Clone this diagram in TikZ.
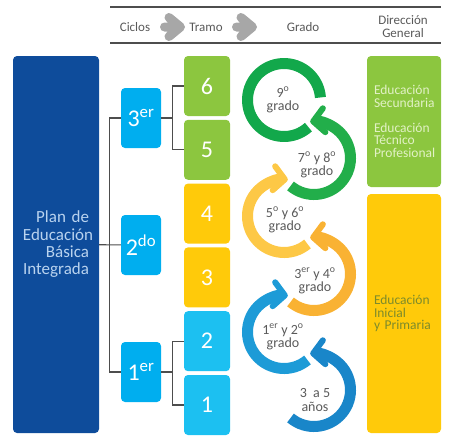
\documentclass[tikz,border=0pt]{standalone}
\usepackage{fontspec}
\setmainfont{Carlito}
\usepackage{tikz}
\usetikzlibrary{positioning,arrows.meta}

\definecolor{planblue}{HTML}{0E4C9B}
\definecolor{plantext}{HTML}{B9D3EF}
\definecolor{cycleblue}{HTML}{00AEEF}
\definecolor{tramogreen}{HTML}{8CC63F}
\definecolor{tramoyellow}{HTML}{FFCA0A}
\definecolor{tramoblue}{HTML}{1CC0F1}
\definecolor{ruleline}{HTML}{4D4D4D}
\definecolor{headtext}{HTML}{595959}
\definecolor{arrowgray}{HTML}{A7A7A7}
\definecolor{gradetext}{HTML}{5A5A5A}
\definecolor{dirlight}{HTML}{E2F1C6}
\definecolor{dirolive}{HTML}{7D8B2B}
\definecolor{ringgreenA}{HTML}{12A84B}
\definecolor{ringgreenB}{HTML}{22AE4A}
\definecolor{ringyellowA}{HTML}{FDC846}
\definecolor{ringyellowB}{HTML}{F9B233}
\definecolor{ringblueA}{HTML}{1D9BD7}
\definecolor{ringblueB}{HTML}{1986C9}

\begin{document}
\begin{tikzpicture}[x=1pt,y=1pt,
    box/.style={rectangle,rounded corners=4pt,inner sep=0pt,text=white},
    tramo node/.style={box,minimum width=46pt,minimum height=60pt,font=\fontsize{24}{24}\selectfont},
    cycle node/.style={box,fill=cycleblue,minimum width=40pt,minimum height=60pt,font=\fontsize{24}{24}\selectfont},
    head node/.style={text=headtext,font=\fontsize{13}{13}\selectfont,align=center},
    grade node/.style={text=gradetext,font=\fontsize{14}{13.5}\selectfont,align=center},
    dir node/.style={box,minimum width=74pt,text width=60pt,inner xsep=7pt,align=left,font=\fontsize{13.5}{12.5}\selectfont},
    link/.style={draw=ruleline,line width=1.1pt},
    ring/.style={line width=11pt},
    ring head/.style={-{Straight Barb[length=11pt,width=24pt,line width'=6pt,round]}}]

  \useasboundingbox (0,0) rectangle (450,-445);

  %Header%
  \draw[ruleline,line width=1.2pt] (110,-7) -- (441,-7);
  \draw[ruleline,line width=1.2pt] (110,-43) -- (441,-43);
  \node[head node] (ciclos) at (135,-27) {Ciclos};
  \node[head node] (tramo) at (206,-27) {Tramo};
  \node[head node] (grado) at (303,-27) {Grado};
  \node[head node] (direccion) at (403,-27) {Dirección\\General};
  \foreach \x in {160,232}
    \draw[arrowgray,line width=9pt,line cap=round,line join=round]
      (\x+4.5,-27) -- (\x+19,-27)
      (\x+9,-17.5) -- (\x+20.5,-27) -- (\x+9,-36.5);

  %Plan%
  \node[box,fill=planblue,minimum width=86pt,minimum height=377pt,text width=66pt,
        align=right,text=plantext,font=\fontsize{17}{17.3}\selectfont] (plan) at (56,-244.5)
        {Plan de\\Educación\\Básica\\Integrada};

  %Ciclos%
  \node[cycle node] (c3) at (141,-118) {3\textsuperscript{er}};
  \node[cycle node] (c2) at (141,-245) {2\textsuperscript{do}};
  \node[cycle node] (c1) at (141,-372) {1\textsuperscript{er}};

  %Tramo%
  \node[tramo node,fill=tramogreen] (t6) at (207,-86) {6};
  \node[tramo node,fill=tramogreen] (t5) [below=3.4pt of t6] {5};
  \node[tramo node,fill=tramoyellow] (t4) [below=3.4pt of t5] {4};
  \node[tramo node,fill=tramoyellow] (t3) [below=3.4pt of t4] {3};
  \node[tramo node,fill=tramoblue] (t2) [below=3.4pt of t3] {2};
  \node[tramo node,fill=tramoblue] (t1) [below=3.4pt of t2] {1};

  %Direccion%
  \node[dir node,fill=tramogreen,minimum height=131pt,text=dirlight] (dsec) at (404,-121.5)
       {Educación\\Secundaria\\[12.5pt]Educación\\Técnico\\Profesional};
  \node[dir node,fill=tramoyellow,minimum height=239pt,text=dirolive] (dpri) at (404,-313.5)
       {Educación\\Inicial\\y Primaria};

  %links%
  \draw[link] (plan) -- (c2);
  \draw[link] (c3.west) -- ++(-11,0) |- (c1.west);
  \draw[link] (c3.east) -- ++(12,0);
  \draw[link] (t6.west) -- ++(-11,0) |- (t5.west);
  \draw[link] (c1.east) -- ++(12,0);
  \draw[link] (t2.west) -- ++(-11,0) |- (t1.west);

  %Grado%
  \coordinate (r9) at (284,-100);
  \coordinate (r78) at (314,-158);
  \coordinate (r56) at (284,-216);
  \coordinate (r34) at (314,-274);
  \coordinate (r12) at (284,-332);
  \coordinate (r35) at (314,-390);

  \draw[ring,ringgreenA] ([shift=(-48:36.5)]r9) arc[start angle=-48,end angle=-356,radius=36.5];
  \draw[ring,ring head,ringgreenB] ([shift=(-130:36.5)]r78) arc[start angle=-130,end angle=96,radius=36.5];
  \draw[ring,ring head,ringyellowA] ([shift=(-50:36.5)]r56) arc[start angle=-50,end angle=-276,radius=36.5];
  \draw[ring,ring head,ringyellowB] ([shift=(-130:36.5)]r34) arc[start angle=-130,end angle=96,radius=36.5];
  \draw[ring,ring head,ringblueA] ([shift=(-50:36.5)]r12) arc[start angle=-50,end angle=-276,radius=36.5];
  \draw[ring,ring head,ringblueB] ([shift=(-130:36.5)]r35) arc[start angle=-130,end angle=96,radius=36.5];

  \node[grade node] (g9) at (283,-100) {9\textsuperscript{o}\\grado};
  \node[grade node] (g78) at (317,-165) {7\textsuperscript{o} y 8\textsuperscript{o}\\grado};
  \node[grade node] (g56) at (285,-220) {5\textsuperscript{o} y 6\textsuperscript{o}\\grado};
  \node[grade node] (g34) at (315,-281) {3\textsuperscript{er} y 4\textsuperscript{o}\\grado};
  \node[grade node] (g12) at (283,-337) {1\textsuperscript{er} y 2\textsuperscript{o}\\grado};
  \node[grade node] (g35) at (315,-400) {3~ a 5\\años};
\end{tikzpicture}
\end{document}
